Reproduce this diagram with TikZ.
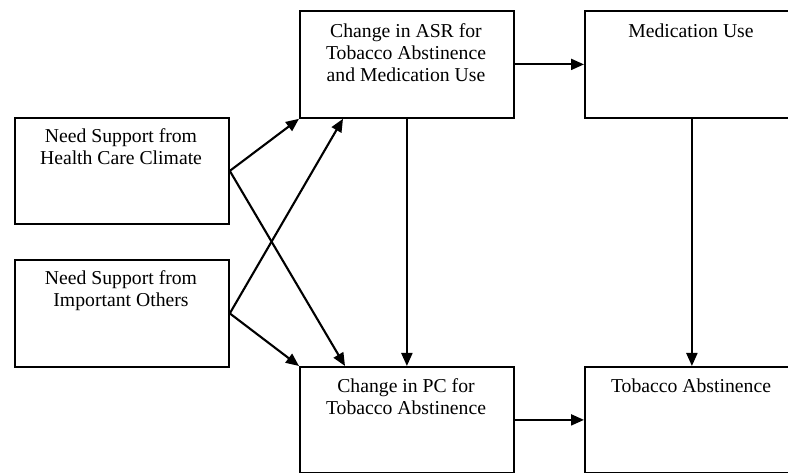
\documentclass[tikz,border=0pt]{standalone}
\usepackage{fontspec}
\setmainfont{Liberation Serif}
\usetikzlibrary{arrows.meta}
\begin{document}
\begin{tikzpicture}[x=1pt,y=-1pt,
  box/.style={draw, line width=1.8pt, inner sep=0pt, anchor=north west, minimum width=214pt},
  lbl/.style={font=\fontsize{19.7}{22}\selectfont, align=center, anchor=base, inner sep=0pt},
  arr/.style={line width=2.1pt, -{Triangle[length=13pt,width=11pt]}}]
\useasboundingbox (0,0) rectangle (788,473);
\clip (0,0) rectangle (788,473);
% boxes
\node[box, minimum height=106pt] (A) at (14,117) {};
\node[box, minimum height=107pt] (B) at (14,259) {};
\node[box, minimum height=107pt] (C) at (299,10) {};
\node[box, minimum height=107pt] (D) at (584,10) {};
\node[box, minimum height=106pt] (E) at (299,366) {};
\node[box, minimum height=106pt] (F) at (584,366) {};
% labels (base anchor = baseline of last line)
\node[lbl] (la) at (121,165) {Need Support from\\Health Care Climate};
\node[lbl] (lb) at (121,307) {Need Support from\\Important Others};
\node[lbl] (lc) at (406,82) {Change in ASR for\\Tobacco Abstinence\\and Medication Use};
\node[lbl] (ld) at (691,38) {Medication Use};
\node[lbl] (le) at (406,414) {Change in PC for\\Tobacco Abstinence};
\node[lbl] (lf) at (691,392) {Tobacco Abstinence};
% connectors
\draw[arr] (A.east) -- (C.south west);
\draw[arr] (A.east) -- ([xshift=46pt]E.north west);
\draw[arr] (B.east) -- ([xshift=44pt]C.south west);
\draw[arr] (B.east) -- (E.north west);
\draw[arr] (C.south) -- (E.north);
\draw[arr] (C.east) -- (D.west);
\draw[arr] (D.south) -- (F.north);
\draw[arr] (E.east) -- (F.west);
\end{tikzpicture}
\end{document}
